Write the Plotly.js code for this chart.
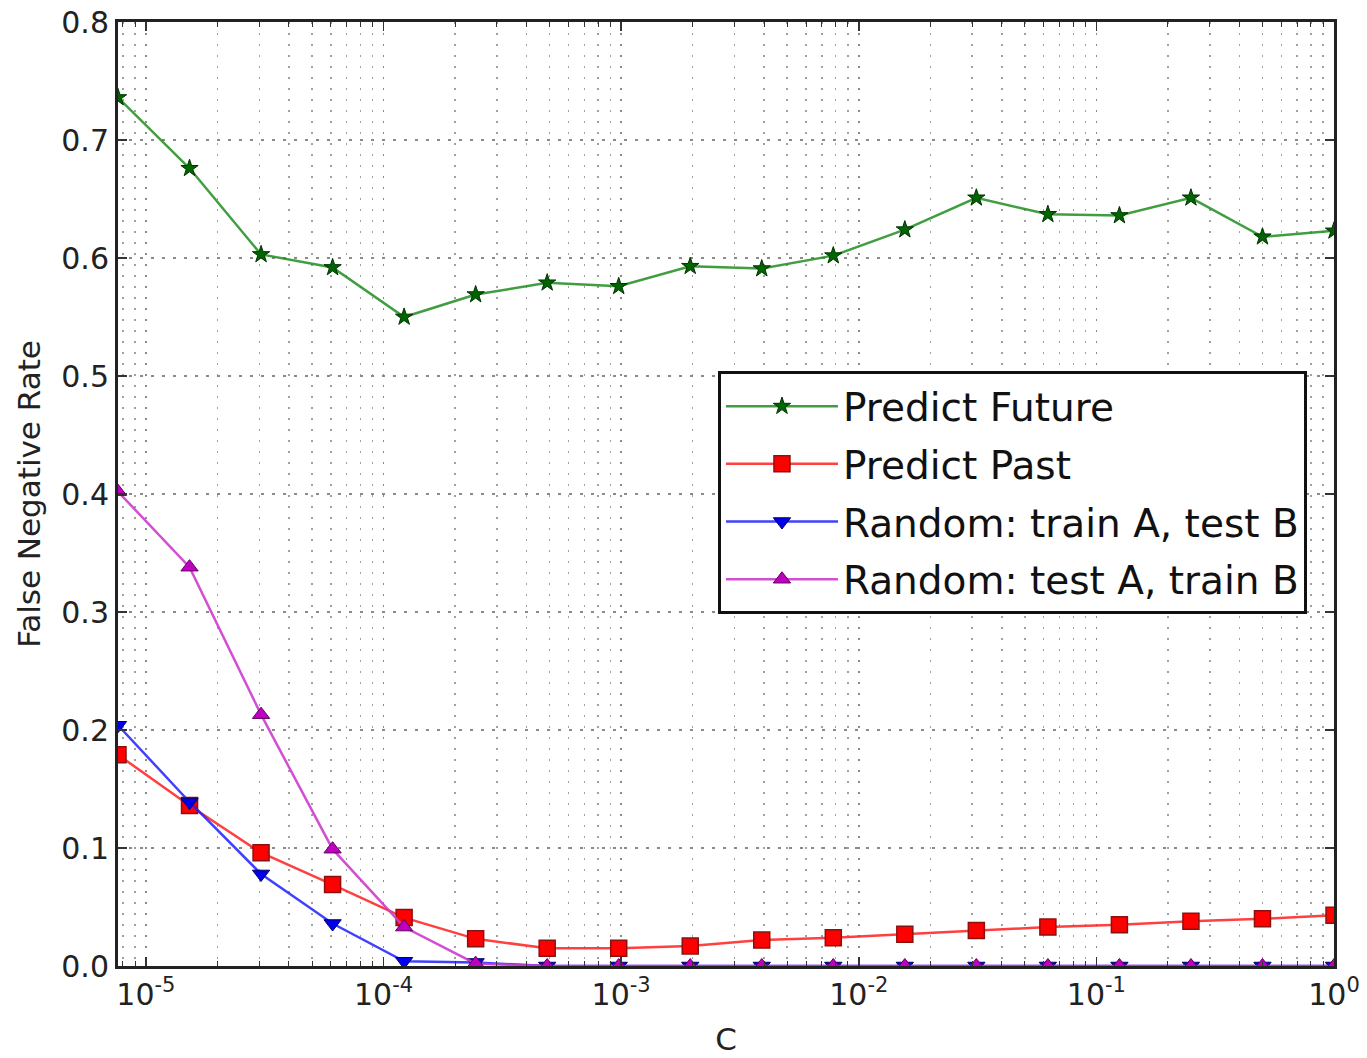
<!DOCTYPE html>
<html>
<head>
<meta charset="utf-8">
<script src="https://cdn.plot.ly/plotly-3.0.1.min.js"></script>
<style>
  html, body { margin: 0; padding: 0; background: #ffffff; }
  #chart { width: 1367px; height: 1058px; }
</style>
</head>
<body>
<div id="chart"></div>
<script>
// C values: powers of two from 2^-17 to 2^0
const cExponents = [-17, -16, -15, -14, -13, -12, -11, -10, -9, -8, -7, -6, -5, -4, -3, -2, -1, 0];
const cValues = cExponents.map(e => Math.pow(2, e));

const predictFuture = [0.736, 0.676, 0.603, 0.592, 0.550, 0.569, 0.579, 0.576, 0.593, 0.591, 0.602, 0.624, 0.651, 0.637, 0.636, 0.651, 0.618, 0.623];
const predictPast   = [0.179, 0.136, 0.096, 0.069, 0.041, 0.023, 0.015, 0.015, 0.017, 0.022, 0.024, 0.027, 0.030, 0.033, 0.035, 0.038, 0.040, 0.043];
const randomTrainA  = [0.204, 0.139, 0.078, 0.036, 0.004, 0.003, 0, 0, 0, 0, 0, 0, 0, 0, 0, 0, 0, 0];
const randomTestA   = [0.402, 0.338, 0.213, 0.099, 0.033, 0.002, 0, 0, 0, 0, 0, 0, 0, 0, 0, 0, 0, 0];

const seriesNames = ['Predict Future', 'Predict Past', 'Random: train A, test B', 'Random: test A, train B'];

const xTickVals = [1e-5, 1e-4, 1e-3, 1e-2, 1e-1, 1];
const xTickText = ['10<sup>-5</sup>', '10<sup>-4</sup>', '10<sup>-3</sup>', '10<sup>-2</sup>', '10<sup>-1</sup>', '10<sup>0</sup>'];
const yTickVals = [0, 0.1, 0.2, 0.3, 0.4, 0.5, 0.6, 0.7, 0.8];
const yTickText = ['0.0', '0.1', '0.2', '0.3', '0.4', '0.5', '0.6', '0.7', '0.8'];

// minor tick positions (2..9 x each decade)
const minorVals = [];
for (let d = -6; d <= 0; d++) {
  for (let k = 2; k <= 9; k++) minorVals.push(k * Math.pow(10, d));
}

const FONT = 'DejaVu Sans, sans-serif';

const traces = [
  {
    x: cValues, y: predictFuture, name: seriesNames[0], mode: 'lines+markers', legendgroup: 'g1',
    line: { color: 'rgba(30,140,30,0.85)', width: 2.5 },
    marker: { symbol: 'star', size: 13, color: '#006400', line: { color: '#003300', width: 1 } }
  },
  {
    x: cValues, y: predictPast, name: seriesNames[1], mode: 'lines+markers', legendgroup: 'g2',
    line: { color: 'rgba(255,30,30,0.85)', width: 2.5 },
    marker: { symbol: 'square', size: 16, color: '#ff0000', line: { color: '#8b1010', width: 1.5 } }
  },
  {
    x: cValues, y: randomTrainA, name: seriesNames[2], mode: 'lines+markers', legendgroup: 'g3',
    line: { color: 'rgba(30,30,255,0.85)', width: 2.5 },
    marker: { symbol: 'triangle-down', size: 15, color: '#0000ee', line: { color: '#000066', width: 1 } }
  },
  {
    x: cValues, y: randomTestA, name: seriesNames[3], mode: 'lines+markers', legendgroup: 'g4',
    line: { color: 'rgba(205,60,205,0.9)', width: 2.5 },
    marker: { symbol: 'triangle-up', size: 15, color: '#bf00bf', line: { color: '#600060', width: 1 } }
  }
];

const layout = {
  width: 1367, height: 1058,
  margin: { l: 118, r: 33, t: 22, b: 92 },
  paper_bgcolor: '#ffffff', plot_bgcolor: '#ffffff',
  font: { family: FONT, color: '#222222', size: 30 },
  showlegend: true,
  legend: {
    x: 0.4934, y: 0.63, xanchor: 'left', yanchor: 'top',
    bgcolor: '#ffffff', bordercolor: '#111111', borderwidth: 3,
    font: { family: FONT, size: 39, color: '#111111' },
    itemwidth: 112, traceorder: 'grouped', tracegroupgap: 4
  },
  xaxis: {
    type: 'log',
    range: [Math.log10(Math.pow(2, -17)), 0],
    tickmode: 'array', tickvals: xTickVals, ticktext: xTickText,
    tickfont: { family: FONT, size: 30, color: '#222' },
    ticks: 'inside', ticklen: 9, tickwidth: 1.5, tickcolor: '#333',
    showline: true, linecolor: '#222', linewidth: 3, mirror: 'ticks',
    showgrid: true, gridcolor: '#8a8a8a', gridwidth: 1.5, griddash: '2px,9px',
    zeroline: false,
    minor: {
      tickmode: 'array', tickvals: minorVals,
      ticks: 'inside', ticklen: 5, tickwidth: 1, tickcolor: '#333',
      showgrid: true, gridcolor: '#a0a0a0', gridwidth: 1.5, griddash: '2px,9px'
    },
    title: { text: 'C', font: { family: FONT, size: 31, color: '#222' }, standoff: 18 }
  },
  yaxis: {
    range: [0, 0.8],
    tickmode: 'array', tickvals: yTickVals, ticktext: yTickText,
    tickfont: { family: FONT, size: 30, color: '#222' },
    ticks: 'inside', ticklen: 9, tickwidth: 1.5, tickcolor: '#333',
    showline: true, linecolor: '#222', linewidth: 3, mirror: 'ticks',
    showgrid: true, gridcolor: '#8a8a8a', gridwidth: 1.5, griddash: '3px,8px',
    zeroline: false,
    title: { text: 'False Negative Rate', font: { family: FONT, size: 31, color: '#222' }, standoff: 12 }
  }
};

Plotly.newPlot('chart', traces, layout, { displayModeBar: false, staticPlot: true });
</script>
</body>
</html>
